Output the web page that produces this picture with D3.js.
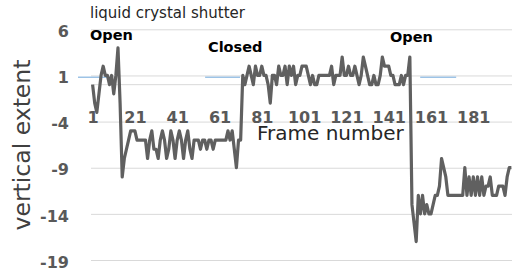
<!DOCTYPE html>
<html>
<head>
<meta charset="utf-8">
<script src="https://cdn.jsdelivr.net/npm/d3@7"></script>
<style>
body{margin:0;background:#fff;}
svg{display:block;}
.axis .tick text{font-family:"DejaVu Sans";font-weight:bold;font-size:16px;fill:#595959;}
</style>
</head>
<body>
<svg id="chart" width="512" height="276"></svg>
<script>

// vertical extent per frame (frame = index + 1)
var extent = [
  0, -2, -3, -1, 1, 2, 1, 1, 0, 1, -1, 1, 4, -2, -10, -8, -7, -6, -5, -5,
  -5, -6, -6, -6, -6, -6, -8, -6, -5, -7, -7, -8, -6, -5, -6, -8, -7, -5, -6, -8,
  -6, -5, -6, -8, -6, -5, -7, -8, -6, -6, -6, -7, -6, -6, -7, -6, -6, -7, -6, -6,
  -6, -6, -6, -6, -5, -6, -5, -7, -9, -6, -6, 1, 0, 1, 2, 1, 0, 2, 1, 1,
  2, 1, 1, 0, -2, 1, 1, 0, 2, 1, 1, 2, 0, 2, 1, 2, 0, 1, 1, 2,
  2, 2, 1, 0, 1, 0, 0, 1, 1, 1, 1, 1, 1, 2, 0, 1, 1, 1, 3, 1,
  1, 2, 1, 1, 2, 1, 0, 1, 3, 2, 1, 0, 0, 1, 0, 0, 1, 3, 2, 2,
  2, 1, 1, 0, 0, 0, 1, 0, 1, 1, 3, -13, -15, -17, -12, -14, -12, -14, -13, -14,
  -14, -13, -12, -12, -11, -8, -9, -10, -12, -12, -12, -12, -12, -12, -12, -12, -9, -12, -10, -12,
  -10, -12, -10, -12, -10, -12, -11, -11, -10, -12, -12, -12, -11, -11, -11, -12, -10, -9, -9
];

var xTicks = [1, 21, 41, 61, 81, 101, 121, 141, 161, 181];
var yTicks = [6, 1, -4, -9, -14, -19];

// light blue shutter marks: [from frame, to frame]
var shutterMarks = [[-5.9, 10.6], [54.2, 70.7], [155.9, 172.9]];
var shutterLevel = [0.8, 0.8, 0.8];

function main(){
	var svg = d3.select("#chart");

	var x = d3.scaleLinear().domain([1, 181]).range([92.6, 473.3]);
	var y = d3.scaleLinear().domain([-19, 6]).range([260, 29.3]);

	// gridlines + y labels
	var gy = svg.append("g")
		.attr("class", "axis y")
		.attr("transform", "translate(91,0)")
		.call(d3.axisLeft(y).tickValues(yTicks).tickSize(-440).tickPadding(22)
			.tickFormat(function(d){ return String(d); }));
	gy.select(".domain").remove();
	gy.selectAll(".tick line").attr("stroke", "#d9d9d9").attr("stroke-width", 1);
	gy.selectAll(".tick text").attr("dy", "0.45em");

	// category axis at zero
	svg.append("line")
		.attr("x1", 91).attr("x2", 531)
		.attr("y1", y(0)).attr("y2", y(0))
		.attr("stroke", "#d9d9d9")
		.attr("stroke-width", 1);

	var gx = svg.append("g")
		.attr("class", "axis x")
		.attr("transform", "translate(0," + y(0) + ")")
		.call(d3.axisBottom(x).tickValues(xTicks).tickSize(0).tickPadding(27));
	gx.select(".domain").remove();

	// blue marks
	svg.selectAll(".mark")
		.data(shutterMarks)
		.enter()
		.append("line")
		.attr("class", "mark")
		.attr("x1", function(d){ return x(d[0]); })
		.attr("x2", function(d){ return x(d[1]); })
		.attr("y1", function(d, i){ return y(shutterLevel[i]); })
		.attr("y2", function(d, i){ return y(shutterLevel[i]); })
		.attr("stroke", "#9dc3e6")
		.attr("stroke-width", 1.5);

	var line = d3.line()
		.x(function(d, i){ return x(i + 1); })
		.y(function(d){ return y(d); });

	svg.append("path")
		.datum(extent)
		.attr("d", line)
		.attr("fill", "none")
		.attr("stroke", "#606060")
		.attr("stroke-width", 3.2)
		.attr("stroke-linejoin", "round");

	// texts
	svg.append("text")
		.attr("x", 90).attr("y", 18)
		.attr("font-family", "DejaVu Sans")
		.attr("font-size", 15)
		.attr("fill", "#262626")
		.text("liquid crystal shutter");

	var notes = svg.append("g")
		.attr("font-family", "DejaVu Sans")
		.attr("font-weight", "bold")
		.attr("font-size", 14.5)
		.attr("fill", "#000");
	notes.append("text").attr("x", 90).attr("y", 39.5).text("Open");
	notes.append("text").attr("x", 208).attr("y", 51.5).text("Closed");
	notes.append("text").attr("x", 390).attr("y", 42).text("Open");

	svg.append("text")
		.attr("x", 257).attr("y", 139.5)
		.attr("font-family", "DejaVu Sans")
		.attr("font-size", 20)
		.attr("fill", "#262626")
		.text("Frame number");

	svg.append("text")
		.attr("transform", "translate(30,145) rotate(-90)")
		.attr("text-anchor", "middle")
		.attr("font-family", "DejaVu Sans")
		.attr("font-size", 23.5)
		.attr("fill", "#404040")
		.text("vertical extent");
}

main();
</script>
</body>
</html>
